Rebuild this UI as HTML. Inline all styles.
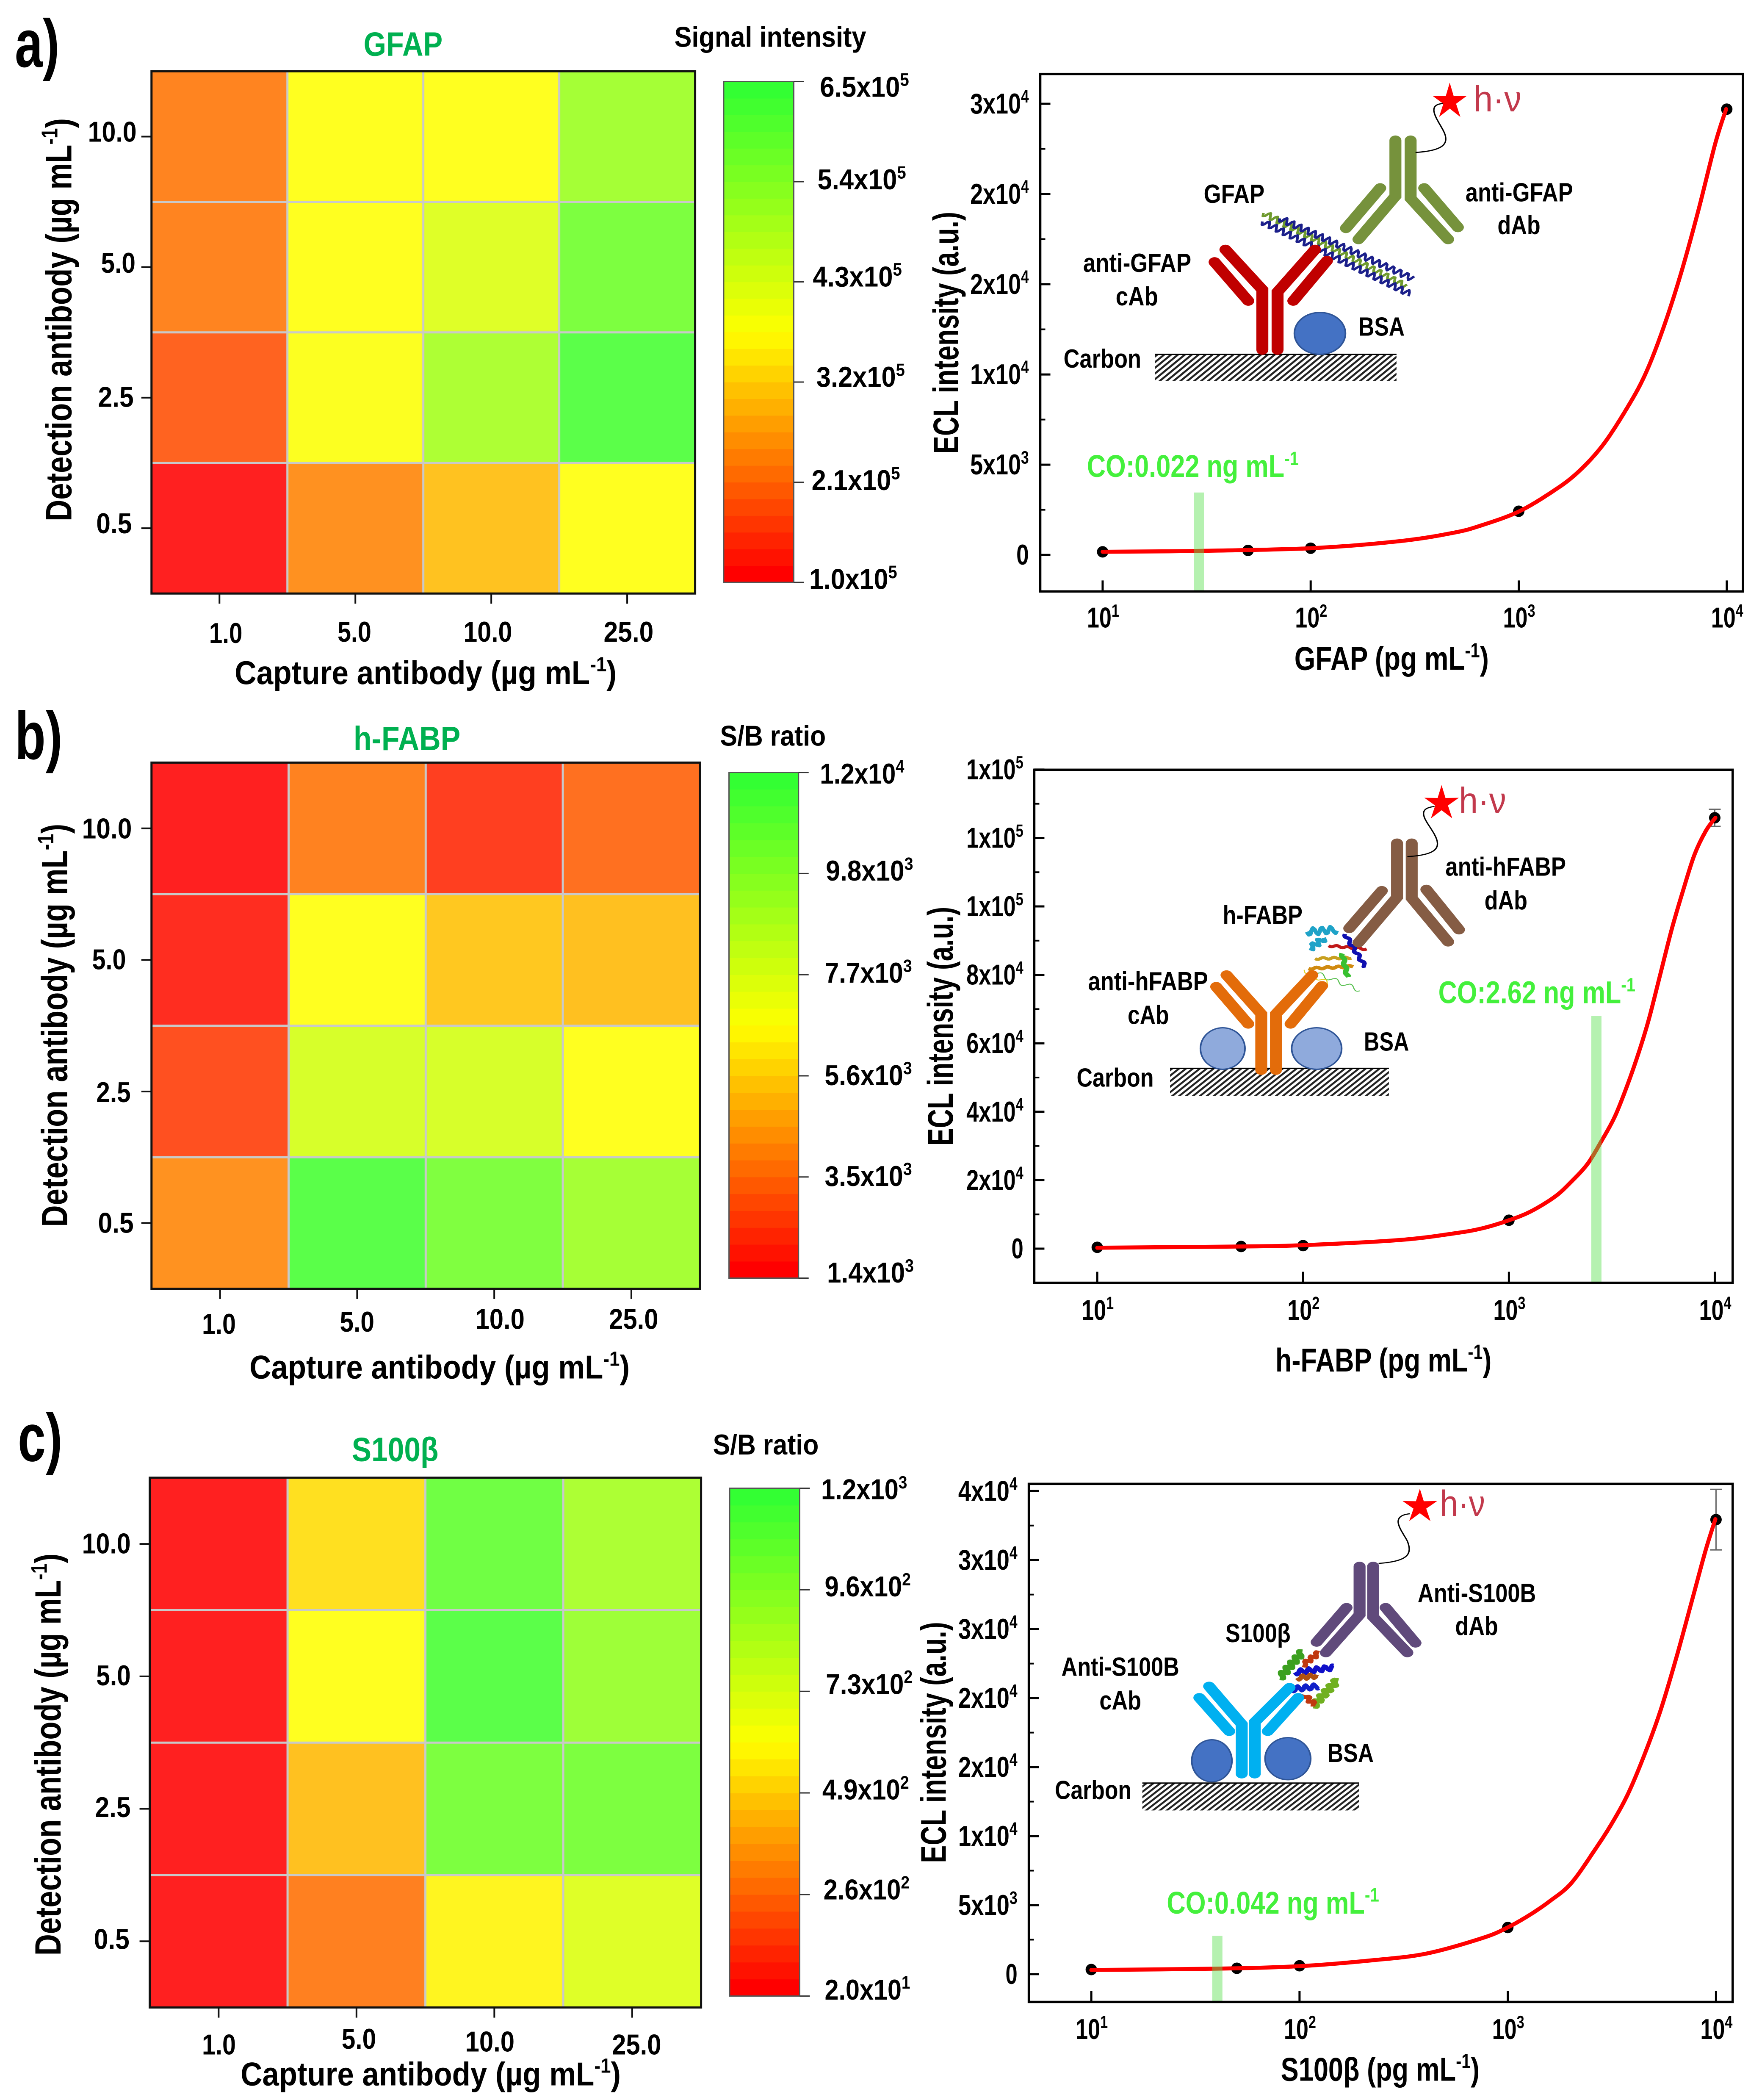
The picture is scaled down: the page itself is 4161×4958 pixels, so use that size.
<!DOCTYPE html>
<html lang="en">
<head>
<meta charset="utf-8">
<title>ECL antibody optimisation and calibration curves</title>
<style>
html,body{margin:0;padding:0;background:#fff}
svg{display:block;font-family:"Liberation Sans",Arial,sans-serif;font-weight:700}
</style>
</head>
<body>
<svg id="figure" xmlns="http://www.w3.org/2000/svg" width="4161" height="4958" viewBox="0 0 4161 4958">
<defs>
<pattern id="hatch" patternUnits="userSpaceOnUse" width="9" height="9" patternTransform="rotate(45)">
<rect width="9" height="9" fill="#fff"/>
<rect width="4" height="9" fill="#222"/>
</pattern>
</defs>
<rect width="4161" height="4958" fill="#fff"/>
</svg>
<script>
// ---------- heat map data ----------
const captureLevels = ['1.0', '5.0', '10.0', '25.0'];
const detectionLevels = ['10.0', '5.0', '2.5', '0.5'];

const gfapHeat = [
  [2.24e5, 3.75e5, 3.75e5, 5.13e5],
  [2.24e5, 3.75e5, 4.25e5, 5.76e5],
  [1.83e5, 3.80e5, 5.00e5, 6.28e5],
  [1.00e5, 2.40e5, 3.00e5, 3.75e5]
];
const hfabpHeat = [
  [1.40e3, 3.73e3, 2.15e3, 3.30e3],
  [1.72e3, 6.70e3, 5.39e3, 5.20e3],
  [2.55e3, 7.90e3, 7.90e3, 6.70e3],
  [4.10e3, 11.6e3, 10.46e3, 9.35e3]
];
const s100Heat = [
  [20, 527, 1082, 881],
  [20, 610, 1153, 929],
  [20, 445, 1040, 1040],
  [20, 274, 583, 716]
];
const gfapBarRange = [1.0e5, 6.5e5];
const hfabpBarRange = [1.4e3, 1.2e4];
const s100BarRange = [2.0e1, 1.2e3];
const gfapBarLabels = ['6.5x10^{5}', '5.4x10^{5}', '4.3x10^{5}', '3.2x10^{5}', '2.1x10^{5}', '1.0x10^{5}'];
const hfabpBarLabels = ['1.2x10^{4}', '9.8x10^{3}', '7.7x10^{3}', '5.6x10^{3}', '3.5x10^{3}', '1.4x10^{3}'];
const s100BarLabels = ['1.2x10^{3}', '9.6x10^{2}', '7.3x10^{2}', '4.9x10^{2}', '2.6x10^{2}', '2.0x10^{1}'];

// ---------- calibration data ----------
const concentrations = [10, 50, 100, 1000, 10000];
const concTickLabels = ['10^{1}', '10^{2}', '10^{3}', '10^{4}'];
const concTicks = [10, 100, 1000, 10000];

const gfapEcl = [170, 250, 370, 2420, 24700];
const gfapErr = [0, 0, 0, 0, 0];
const gfapFitLogConc = [1.00, 1.46, 2.00, 2.43, 2.69, 2.824, 2.998, 3.156, 3.280, 3.405, 3.530, 3.613, 3.696, 3.779, 3.862, 3.945, 3.997];
const gfapFitEcl = [173, 222, 370, 766, 1235, 1650, 2390, 3462, 4533, 6096, 8319, 10131, 12600, 15566, 19023, 22810, 24704];
const gfapYTicks = [0, 5000, 10000, 15000, 20000, 25000];
const gfapYLabels = ['0', '5x10^{3}', '1x10^{4}', '2x10^{4}', '2x10^{4}', '3x10^{4}'];
const gfapCutoff = 29;

const hfabpEcl = [380, 630, 885, 8300, 125900];
const hfabpErr = [0, 0, 0, 0, 2500];
const hfabpFitLogConc = [1.00, 1.70, 2.00, 2.47, 2.73, 2.870, 2.999, 3.106, 3.224, 3.303, 3.382, 3.448, 3.515, 3.578, 3.633, 3.681, 3.736, 3.791, 3.846, 3.901, 3.956, 4.003];
const hfabpFitEcl = [250, 630, 1010, 2526, 4420, 5928, 8267, 10866, 15210, 19554, 24765, 31275, 38650, 48205, 57748, 67302, 80322, 93354, 104641, 115050, 122005, 125903];
const hfabpYTicks = [0, 20000, 40000, 60000, 80000, 100000, 120000, 140000];
const hfabpYLabels = ['0', '2x10^{4}', '4x10^{4}', '6x10^{4}', '8x10^{4}', '1x10^{5}', '1x10^{5}', '1x10^{5}'];
const hfabpCutoff = 2660;

const s100Ecl = [335, 427, 610, 3380, 32930];
const s100Err = [0, 0, 0, 0, 2195];
const s100FitLogConc = [1.00, 1.59, 2.00, 2.35, 2.61, 2.877, 2.997, 3.110, 3.203, 3.305, 3.421, 3.499, 3.577, 3.655, 3.733, 3.810, 3.888, 3.950, 3.997];
const s100FitEcl = [305, 396, 579, 1006, 1494, 2611, 3366, 4336, 5305, 6594, 9070, 10899, 13053, 15848, 19080, 22955, 27260, 30703, 32964];
const s100YTicks = [0, 5000, 10000, 15000, 20000, 25000, 30000, 35000];
const s100YLabels = ['0', '5x10^{3}', '1x10^{4}', '2x10^{4}', '2x10^{4}', '3x10^{4}', '3x10^{4}', '4x10^{4}'];
const s100Cutoff = 40.3;

// ---------- drawing helpers ----------
const svg = document.getElementById('figure');
const NS = 'http://www.w3.org/2000/svg';

function mk(tag, attrs, name, parent) {
  const el = document.createElementNS(NS, tag);
  for (const k in attrs) el.setAttribute(k, attrs[k]);
  
  
  (parent || svg).appendChild(el);
  return el;
}

function richText(str, size, fill, name, parent, weight) {
  const el = mk('text', {'font-size': size, fill: fill, 'font-weight': weight || 700}, name, parent);
  const parts = str.split(/(\^\{[^}]*\})/);
  let raised = false;
  parts.forEach(function (p) {
    if (!p) return;
    const t = document.createElementNS(NS, 'tspan');
    if (p.charAt(0) === '^') {
      t.textContent = p.slice(2, -1);
      t.setAttribute('font-size', size * 0.62);
      t.setAttribute('dy', -size * 0.38);
      raised = true;
    } else {
      t.textContent = p;
      if (raised) { t.setAttribute('dy', size * 0.38); raised = false; }
    }
    el.appendChild(t);
  });
  return el;
}

function hText(str, x0, x1, base, size, fill, name, parent, weight) {
  const el = richText(str, size, fill, name, parent, weight);
  const w = el.getComputedTextLength() || 1;
  el.setAttribute('transform', 'translate(' + x0 + ',' + base + ') scale(' + ((x1 - x0) / w) + ',1)');
  return el;
}

function vText(str, baseX, y0, y1, size, fill, name, parent) {
  const el = richText(str, size, fill, name, parent);
  const w = el.getComputedTextLength() || 1;
  el.setAttribute('transform', 'translate(' + baseX + ',' + y0 + ') rotate(-90) scale(' + ((y0 - y1) / w) + ',1)');
  return el;
}

function lerp(a, b, t) { return a + (b - a) * t; }

function scaleRGB(t) {
  t = Math.max(0, Math.min(1, t));
  if (t <= 0.5) return [255, 255 * t / 0.5, 0];
  const u = (t - 0.5) / 0.5;
  return [lerp(255, 51, u), 255, lerp(0, 51, u)];
}
function css(c) { return 'rgb(' + Math.round(c[0]) + ',' + Math.round(c[1]) + ',' + Math.round(c[2]) + ')'; }
function tint(c) { return c.map(function (v) { return v * 0.875 + 255 * 0.125; }); }

// ---------- heat maps ----------
const ZX = 2200 / 1568;

const heatPanels = [
  {key: 'gfap', letter: 'a)', letterBox: [25, 100, 150], oy: 0, sy: 1.052, frame: [255, 1170, 160, 1332], bar: [1218, 1336, 183, 1307],
   grid: gfapHeat, range: gfapBarRange, barLabels: gfapBarLabels,
   title: 'GFAP', titleBox: [612, 745, 125], barTitle: 'Signal intensity', barTitleBox: [1135, 1458, 105],
   xTitleBox: [395, 1038, 1535], yTitleBox: [120, 1170, 265],
   yLab: [[148, 230, 318], [170, 228, 612], [165, 225, 913], [162, 222, 1197]],
   xLab: [[352, 408, 1443], [568, 625, 1440], [780, 862, 1440], [1016, 1100, 1440]],
   barLab: [[1380, 1530, 217], [1376, 1525, 425], [1368, 1518, 643], [1374, 1523, 868], [1366, 1515, 1100], [1362, 1510, 1322]]},
  {key: 'hfabp', letter: 'b)', letterBox: [25, 105, 135], oy: 1650, sy: 1.052, frame: [255, 1178, 143, 1324], bar: [1227, 1344, 165, 1300],
   grid: hfabpHeat, range: hfabpBarRange, barLabels: hfabpBarLabels,
   title: 'h-FABP', titleBox: [595, 775, 115], barTitle: 'S/B ratio', barTitleBox: [1212, 1390, 105],
   xTitleBox: [420, 1060, 1525], yTitleBox: [113, 1185, 280],
   yLab: [[138, 222, 313], [155, 212, 607], [162, 220, 905], [165, 225, 1198]],
   xLab: [[340, 397, 1425], [572, 630, 1420], [800, 883, 1414], [1025, 1108, 1414]],
   barLab: [[1380, 1522, 190], [1390, 1537, 408], [1388, 1535, 637], [1388, 1535, 867], [1388, 1535, 1093], [1392, 1538, 1310]]},
  {key: 's100', letter: 'c)', letterBox: [30, 105, 115], oy: 3330, sy: 1.038, frame: [252, 1180, 153, 1358], bar: [1228, 1346, 177, 1332],
   grid: s100Heat, range: s100BarRange, barLabels: s100BarLabels,
   title: 'S100\u03B2', titleBox: [592, 738, 115], barTitle: 'S/B ratio', barTitleBox: [1200, 1378, 100],
   xTitleBox: [405, 1045, 1535], yTitleBox: [102, 1240, 325],
   yLab: [[138, 220, 325], [162, 220, 625], [160, 220, 925], [158, 218, 1225]],
   xLab: [[340, 397, 1465], [575, 633, 1452], [783, 866, 1458], [1030, 1113, 1465]],
   barLab: [[1382, 1527, 202], [1388, 1533, 423], [1390, 1536, 645], [1384, 1530, 885], [1386, 1531, 1112], [1388, 1532, 1340]]}
];

function drawHeat(p) {
  const X = function (z) { return z * ZX; };
  const Y = function (z) { return p.oy + z * p.sy; };
  const g = mk('g', {}, p.key + '-heatmap-panel');
  const fx0 = X(p.frame[0]), fx1 = X(p.frame[1]), fy0 = Y(p.frame[2]), fy1 = Y(p.frame[3]);
  const colX = function (i) { return fx0 + i * (fx1 - fx0) / captureLevels.length; };
  const rowY = function (i) { return fy0 + i * (fy1 - fy0) / detectionLevels.length; };
  const norm = function (v) { return (v - p.range[0]) / (p.range[1] - p.range[0]); };

  p.grid.forEach(function (row, r) {
    row.forEach(function (v, c) {
      mk('rect', {x: colX(c), y: rowY(r), width: colX(c + 1) - colX(c), height: rowY(r + 1) - rowY(r), fill: css(tint(scaleRGB(norm(v))))},
        p.key + '-cell-' + detectionLevels[r] + '-' + captureLevels[c], g);
    });
  });
  for (let i = 1; i < captureLevels.length; i++) {
    mk('line', {x1: colX(i), x2: colX(i), y1: fy0, y2: fy1, stroke: '#c9c9c9', 'stroke-width': 5}, p.key + '-grid-column', g);
  }
  for (let i = 1; i < detectionLevels.length; i++) {
    mk('line', {x1: fx0, x2: fx1, y1: rowY(i), y2: rowY(i), stroke: '#c9c9c9', 'stroke-width': 5}, p.key + '-grid-row', g);
  }
  mk('rect', {x: fx0, y: fy0, width: fx1 - fx0, height: fy1 - fy0, fill: 'none', stroke: '#111', 'stroke-width': 5}, p.key + '-heatmap-frame', g);

  captureLevels.forEach(function (lab, i) {
    const cx = (colX(i) + colX(i + 1)) / 2;
    mk('line', {x1: cx, x2: cx, y1: fy1, y2: fy1 + 24, stroke: '#111', 'stroke-width': 4}, p.key + '-x-tick', g);
    const b = p.xLab[i];
    hText(lab, X(b[0]), X(b[1]), Y(b[2]), 68, '#000', p.key + '-x-tick-label', g);
  });
  detectionLevels.forEach(function (lab, i) {
    const cy = (rowY(i) + rowY(i + 1)) / 2;
    mk('line', {x1: fx0 - 24, x2: fx0, y1: cy, y2: cy, stroke: '#111', 'stroke-width': 4}, p.key + '-y-tick', g);
    const b = p.yLab[i];
    hText(lab, X(b[0]), X(b[1]), Y(b[2]), 68, '#000', p.key + '-y-tick-label', g);
  });

  // colour bar
  const bx0 = X(p.bar[0]), bx1 = X(p.bar[1]), by0 = Y(p.bar[2]), by1 = Y(p.bar[3]);
  const bands = 30;
  const bg = mk('g', {}, p.key + '-colorbar', g);
  for (let i = 0; i < bands; i++) {
    const top = lerp(by1, by0, (i + 1) / bands), bot = lerp(by1, by0, i / bands);
    mk('rect', {x: bx0, y: top, width: bx1 - bx0, height: bot - top + 0.6, fill: css(scaleRGB(i / (bands - 1)))}, p.key + '-colorbar-band', bg);
  }
  mk('rect', {x: bx0, y: by0, width: bx1 - bx0, height: by1 - by0, fill: 'none', stroke: '#555', 'stroke-width': 3}, p.key + '-colorbar-outline', bg);
  p.barLabels.forEach(function (lab, i) {
    const ty = lerp(by0, by1, i / (p.barLabels.length - 1));
    mk('line', {x1: bx1, x2: bx1 + 24, y1: ty, y2: ty, stroke: '#333', 'stroke-width': 3}, p.key + '-colorbar-tick', bg);
    const b = p.barLab[i];
    hText(lab, X(b[0]), X(b[1]), Y(b[2]), 68, '#000', p.key + '-colorbar-label', bg);
  });

  hText(p.title, X(p.titleBox[0]), X(p.titleBox[1]), Y(p.titleBox[2]), 80, '#00b050', p.key + '-heatmap-title', g);
  hText(p.barTitle, X(p.barTitleBox[0]), X(p.barTitleBox[1]), Y(p.barTitleBox[2]), 68, '#000', p.key + '-colorbar-title', g);
  hText('Capture antibody (\u00B5g mL^{-1})', X(p.xTitleBox[0]), X(p.xTitleBox[1]), Y(p.xTitleBox[2]), 78, '#000', p.key + '-x-axis-title', g);
  vText('Detection antibody (\u00B5g mL^{-1})', X(p.yTitleBox[0]), Y(p.yTitleBox[1]), Y(p.yTitleBox[2]), 86, '#000', p.key + '-y-axis-title', g);
  hText(p.letter, X(p.letterBox[0]), X(p.letterBox[1]), Y(p.letterBox[2]), 160, '#000', p.key + '-panel-letter', g);
}
heatPanels.forEach(drawHeat);

// ---------- calibration panels ----------
const curvePanels = [
  {key: 'gfap', oy: 0, sy: 1650 / 1568, frame: [239, 1533, 166, 1327], logDomain: [0.70, 4.078], yDomain: [-2025, 26650],
   ecl: gfapEcl, err: gfapErr, fitLog: gfapFitLogConc, fitEcl: gfapFitEcl, yTicks: gfapYTicks, yLabels: gfapYLabels, cutoff: gfapCutoff,
   coText: 'CO:0.022 ng mL^{-1}', coBox: [325, 715, 1070], coTop: 1105,
   yLabX: [110, 218], zeroX: [195, 218], xLabBase: 1408, yTitle: [88, 1018, 475],
   xTitle: 'GFAP (pg mL^{-1})', xTitleBox: [707, 1065, 1503],
   star: [993, 225], hv: [1037, 1125, 250], wire: 'M930,342 C985,338 992,320 982,295 C972,270 945,232 985,232',
   carbon: [450, 895, 795, 855], color: '#c00000', dcolor: '#76923c',
   dAb: [[[893, 315], [893, 440], [825, 537]], [[865, 422], [802, 512]], [[921, 315], [921, 445], [990, 537]], [[946, 422], [1008, 510]]],
   cAb: [[[648, 785], [648, 650], [580, 560]], [[560, 588], [622, 675]], [[676, 785], [676, 655], [745, 560]], [[767, 585], [705, 675]]],
   bsa: [[754, 748, 47, 47]], bsaFill: '#4472c4',
   texts: [['GFAP', 540, 652, 455], ['anti-GFAP', 318, 517, 610], ['cAb', 378, 456, 685], ['anti-GFAP', 1022, 1220, 452], ['dAb', 1081, 1160, 525], ['BSA', 825, 910, 753], ['Carbon', 282, 425, 825]],
   protein: [['#6f9a2e', 5, 650, 478, 912, 642, 7, 15], ['#1b1f8a', 5, 648, 497, 920, 660, 7, 15], ['#1b1f8a', 5, 680, 490, 925, 625, 7, 15]]},
  {key: 'hfabp', oy: 1700, sy: 1600 / 1568, frame: [228, 1514, 115, 1302], logDomain: [0.694, 4.087], yDomain: [-9978, 139940],
   ecl: hfabpEcl, err: hfabpErr, fitLog: hfabpFitLogConc, fitEcl: hfabpFitEcl, yTicks: hfabpYTicks, yLabels: hfabpYLabels, cutoff: hfabpCutoff,
   coText: 'CO:2.62 ng mL^{-1}', coBox: [972, 1335, 655], coTop: 685,
   yLabX: [103, 208], zeroX: [186, 208], xLabBase: 1388, yTitle: [78, 985, 432],
   xTitle: 'h-FABP (pg mL^{-1})', xTitleBox: [672, 1070, 1507],
   star: [978, 190], hv: [1010, 1097, 215], wire: 'M915,316 C970,312 978,295 965,265 C955,240 925,205 965,200',
   carbon: [478, 881, 806, 870], color: '#e36c0a', dcolor: '#855c44',
   dAb: [[[896, 285], [896, 410], [825, 515]], [[868, 395], [808, 482]], [[923, 285], [923, 412], [990, 513]], [[950, 392], [1010, 485]]],
   cAb: [[[646, 810], [646, 680], [582, 590]], [[563, 617], [622, 703]], [[673, 810], [673, 680], [740, 590]], [[758, 615], [700, 703]]],
   bsa: [[575, 760, 41, 48], [748, 760, 46, 48]], bsaFill: '#8faadc',
   texts: [['h-FABP', 575, 722, 472], ['anti-hFABP', 327, 548, 625], ['cAb', 400, 476, 703], ['anti-hFABP', 985, 1207, 360], ['dAb', 1057, 1136, 438], ['BSA', 835, 918, 765], ['Carbon', 306, 448, 848]],
   protein: [['#1fa3c8', 8, 730, 490, 785, 485, 8, 16], ['#1fa3c8', 8, 735, 528, 762, 505, 7, 14], ['#d08a10', 8, 733, 575, 815, 570, 2, 20], ['#c01818', 7, 770, 522, 840, 530, 2, 20], ['#c8a020', 7, 745, 552, 812, 550, 2, 20], ['#38c030', 10, 795, 540, 805, 595, 2, 20], ['#1010b0', 8, 800, 495, 838, 572, 3, 20], ['#58c050', 2, 735, 580, 828, 625, 5, 30], ['#e0d020', 2, 725, 578, 770, 610, 5, 26]]},
  {key: 's100', oy: 3400, sy: 1558 / 1568, frame: [218, 1514, 104, 1335], logDomain: [0.70, 4.08], yDomain: [-2012, 35520],
   ecl: s100Ecl, err: s100Err, fitLog: s100FitLogConc, fitEcl: s100FitEcl, yTicks: s100YTicks, yLabels: s100YLabels, cutoff: s100Cutoff,
   coText: 'CO:0.042 ng mL^{-1}', coBox: [472, 863, 1125], coTop: 1178,
   yLabX: [88, 197], zeroX: [175, 197], xLabBase: 1423, yTitle: [65, 1005, 432],
   xTitle: 'S100\u03B2 (pg mL^{-1})', xTitleBox: [682, 1048, 1522],
   star: [938, 155], hv: [975, 1058, 180], wire: 'M862,293 C915,288 925,272 915,240 C905,215 880,180 920,175',
   carbon: [427, 826, 815, 880], color: '#00b0f0', dcolor: '#604a7b',
   dAb: [[[827, 300], [827, 415], [765, 505]], [[803, 398], [748, 480]], [[852, 300], [852, 420], [915, 505]], [[875, 398], [930, 482]]],
   cAb: [[[610, 793], [610, 675], [550, 585]], [[532, 612], [587, 692]], [[634, 793], [634, 670], [698, 588]], [[714, 612], [658, 692]]],
   bsa: [[555, 762, 37, 50], [695, 757, 42, 50]], bsaFill: '#4472c4',
   texts: [['S100\u03B2', 580, 700, 480], ['Anti-S100B', 278, 495, 560], ['cAb', 348, 425, 640], ['Anti-S100B', 934, 1152, 385], ['dAb', 1003, 1082, 463], ['BSA', 768, 853, 765], ['Carbon', 266, 407, 853]],
   protein: [['#3ca020', 11, 680, 565, 722, 503, 6, 15], ['#70b020', 11, 742, 632, 786, 570, 6, 15], ['#1010c8', 9, 708, 552, 780, 540, 6, 15], ['#1020c8', 9, 702, 592, 752, 585, 6, 15], ['#c03810', 9, 722, 535, 752, 505, 5, 14], ['#b05010', 9, 712, 565, 748, 560, 5, 14], ['#c03810', 9, 725, 605, 745, 630, 5, 14]]}
];

function drawCurve(p) {
  const ZXR = 2011 / 1568;
  const X = function (z) { return 2150 + z * ZXR; };
  const Y = function (z) { return p.oy + z * p.sy; };
  const g = mk('g', {}, p.key + '-calibration-panel');
  const fx0 = X(p.frame[0]), fx1 = X(p.frame[1]), fy0 = Y(p.frame[2]), fy1 = Y(p.frame[3]);
  const xLog = function (l) { return fx0 + (l - p.logDomain[0]) / (p.logDomain[1] - p.logDomain[0]) * (fx1 - fx0); };
  const xConc = function (c) { return xLog(Math.log10(c)); };
  const yVal = function (v) { return fy1 - (v - p.yDomain[0]) / (p.yDomain[1] - p.yDomain[0]) * (fy1 - fy0); };

  mk('rect', {x: fx0, y: fy0, width: fx1 - fx0, height: fy1 - fy0, fill: '#fff'}, p.key + '-plot-area', g);

  // schematic
  const sch = mk('g', {transform: 'matrix(' + ZXR + ',0,0,' + p.sy + ',2150,' + p.oy + ')'}, p.key + '-assay-schematic', g);
  mk('rect', {x: p.carbon[0], y: p.carbon[2], width: p.carbon[1] - p.carbon[0], height: p.carbon[3] - p.carbon[2], fill: 'url(#hatch)'}, p.key + '-carbon-electrode', sch);
  mk('line', {x1: p.carbon[0], x2: p.carbon[1], y1: p.carbon[2], y2: p.carbon[2], stroke: '#000', 'stroke-width': 3}, p.key + '-carbon-surface', sch);
  p.bsa.forEach(function (b) {
    mk('ellipse', {cx: b[0], cy: b[1], rx: b[2], ry: b[3], fill: p.bsaFill, stroke: '#2f5597', 'stroke-width': 3}, p.key + '-bsa-blocker', sch);
  });
  p.protein.forEach(function (s) {
    const dx = s[4] - s[2], dy = s[5] - s[3], len = Math.hypot(dx, dy);
    const nx = -dy / len, ny = dx / len, steps = Math.ceil(len / 3), wave = [];
    for (let i = 0; i <= steps; i++) {
      const u = i / steps, off = s[6] * Math.sin(u * len / s[7] * 2 * Math.PI);
      wave.push((s[2] + dx * u + nx * off) + ',' + (s[3] + dy * u + ny * off));
    }
    mk('polyline', {points: wave.join(' '), fill: 'none', stroke: s[0], 'stroke-width': s[1], 'stroke-linejoin': 'round'}, p.key + '-antigen-strand', sch);
  });
  const drawAb = function (set, col, nm) {
    const ab = mk('g', {}, p.key + '-' + nm, sch);
    set.forEach(function (line) {
      mk('polyline', {points: line.map(function (q) { return q.join(','); }).join(' '), fill: 'none', stroke: col, 'stroke-width': 22, 'stroke-linecap': 'round', 'stroke-linejoin': 'miter'}, p.key + '-' + nm + '-chain', ab);
    });
  };
  drawAb(p.cAb, p.color, 'capture-antibody');
  drawAb(p.dAb, p.dcolor, 'detection-antibody');
  mk('path', {d: p.wire, fill: 'none', stroke: '#000', 'stroke-width': 2.5}, p.key + '-linker', sch);
  const starPts = [];
  for (let i = 0; i < 10; i++) {
    const r = i % 2 ? 14 : 38;
    const a = -Math.PI / 2 + i * Math.PI / 5;
    starPts.push((p.star[0] + r * Math.cos(a) * 0.88) + ',' + (p.star[1] + 3 + r * Math.sin(a) * 1.12));
  }
  mk('polygon', {points: starPts.join(' '), fill: '#ff0000'}, p.key + '-emission-star', sch);
  p.texts.forEach(function (t) {
    hText(t[0], X(t[1]), X(t[2]), Y(t[3]), 62, '#000', p.key + '-schematic-label', g);
  });
  hText('h\u00B7\u03BD', X(p.hv[0]), X(p.hv[1]), Y(p.hv[2]), 86, '#c2394c', p.key + '-emission-label', g, 400);

  // fitted curve from read points
  const pts = p.fitLog.map(function (l, i) { return [xLog(l), yVal(p.fitEcl[i])]; });
  let d = 'M' + pts[0][0] + ',' + pts[0][1];
  for (let i = 0; i < pts.length - 1; i++) {
    const a = pts[Math.max(0, i - 1)], b = pts[i], c = pts[i + 1], e = pts[Math.min(pts.length - 1, i + 2)];
    d += ' C' + (b[0] + (c[0] - a[0]) / 6) + ',' + (b[1] + (c[1] - a[1]) / 6) + ' ' + (c[0] - (e[0] - b[0]) / 6) + ',' + (c[1] - (e[1] - b[1]) / 6) + ' ' + c[0] + ',' + c[1];
  }
  // points
  concentrations.forEach(function (c, i) {
    const cx = xConc(c), v = p.ecl[i], er = p.err[i];
    if (er > 0) {
      mk('line', {x1: cx, x2: cx, y1: yVal(v + er), y2: yVal(v - er), stroke: '#666', 'stroke-width': 3}, p.key + '-error-bar', g);
      mk('line', {x1: cx - 14, x2: cx + 14, y1: yVal(v + er), y2: yVal(v + er), stroke: '#666', 'stroke-width': 3}, p.key + '-error-cap-upper', g);
      mk('line', {x1: cx - 14, x2: cx + 14, y1: yVal(v - er), y2: yVal(v - er), stroke: '#666', 'stroke-width': 3}, p.key + '-error-cap-lower', g);
    }
    mk('circle', {cx: cx, cy: yVal(v), r: 13.5, fill: '#000'}, p.key + '-data-point', g);
  });
  mk('path', {d: d, fill: 'none', stroke: '#ff0000', 'stroke-width': 9.5, 'stroke-linecap': 'round'}, p.key + '-fit-curve', g);

  // cutoff band
  const cox = xConc(p.cutoff);
  mk('rect', {x: cox - 12, y: Y(p.coTop), width: 24, height: fy1 - Y(p.coTop), fill: '#5be04f', 'fill-opacity': 0.45}, p.key + '-cutoff-band', g);
  hText(p.coText, X(p.coBox[0]), X(p.coBox[1]), Y(p.coBox[2]), 74, '#44f03c', p.key + '-cutoff-label', g);

  // axes
  mk('rect', {x: fx0, y: fy0, width: fx1 - fx0, height: fy1 - fy0, fill: 'none', stroke: '#000', 'stroke-width': 5.5}, p.key + '-plot-frame', g);
  concTicks.forEach(function (c, i) {
    const cx = xConc(c);
    mk('line', {x1: cx, x2: cx, y1: fy1 - 26, y2: fy1, stroke: '#000', 'stroke-width': 5}, p.key + '-x-tick', g);
    hText(concTickLabels[i], cx - 37, cx + 39, Y(p.xLabBase), 68, '#000', p.key + '-x-tick-label', g);
  });
  p.yTicks.forEach(function (v, i) {
    const ty = yVal(v);
    mk('line', {x1: fx0, x2: fx0 + 24, y1: ty, y2: ty, stroke: '#000', 'stroke-width': 5}, p.key + '-y-tick', g);
    const lab = p.yLabels[i];
    const box = v === 0 ? p.zeroX : p.yLabX;
    hText(lab, X(box[0]), X(box[1]), ty + 23, 68, '#000', p.key + '-y-tick-label', g);
    if (i > 0) {
      const my = yVal((v + p.yTicks[i - 1]) / 2);
      mk('line', {x1: fx0, x2: fx0 + 12, y1: my, y2: my, stroke: '#000', 'stroke-width': 4}, p.key + '-y-minor-tick', g);
    }
  });
  hText(p.xTitle, X(p.xTitleBox[0]), X(p.xTitleBox[1]), Y(p.xTitleBox[2]), 78, '#000', p.key + '-x-axis-title', g);
  vText('ECL intensity (a.u.)', X(p.yTitle[0]), Y(p.yTitle[1]), Y(p.yTitle[2]), 84, '#000', p.key + '-y-axis-title', g);
}
curvePanels.forEach(drawCurve);
</script>
</body>
</html>
